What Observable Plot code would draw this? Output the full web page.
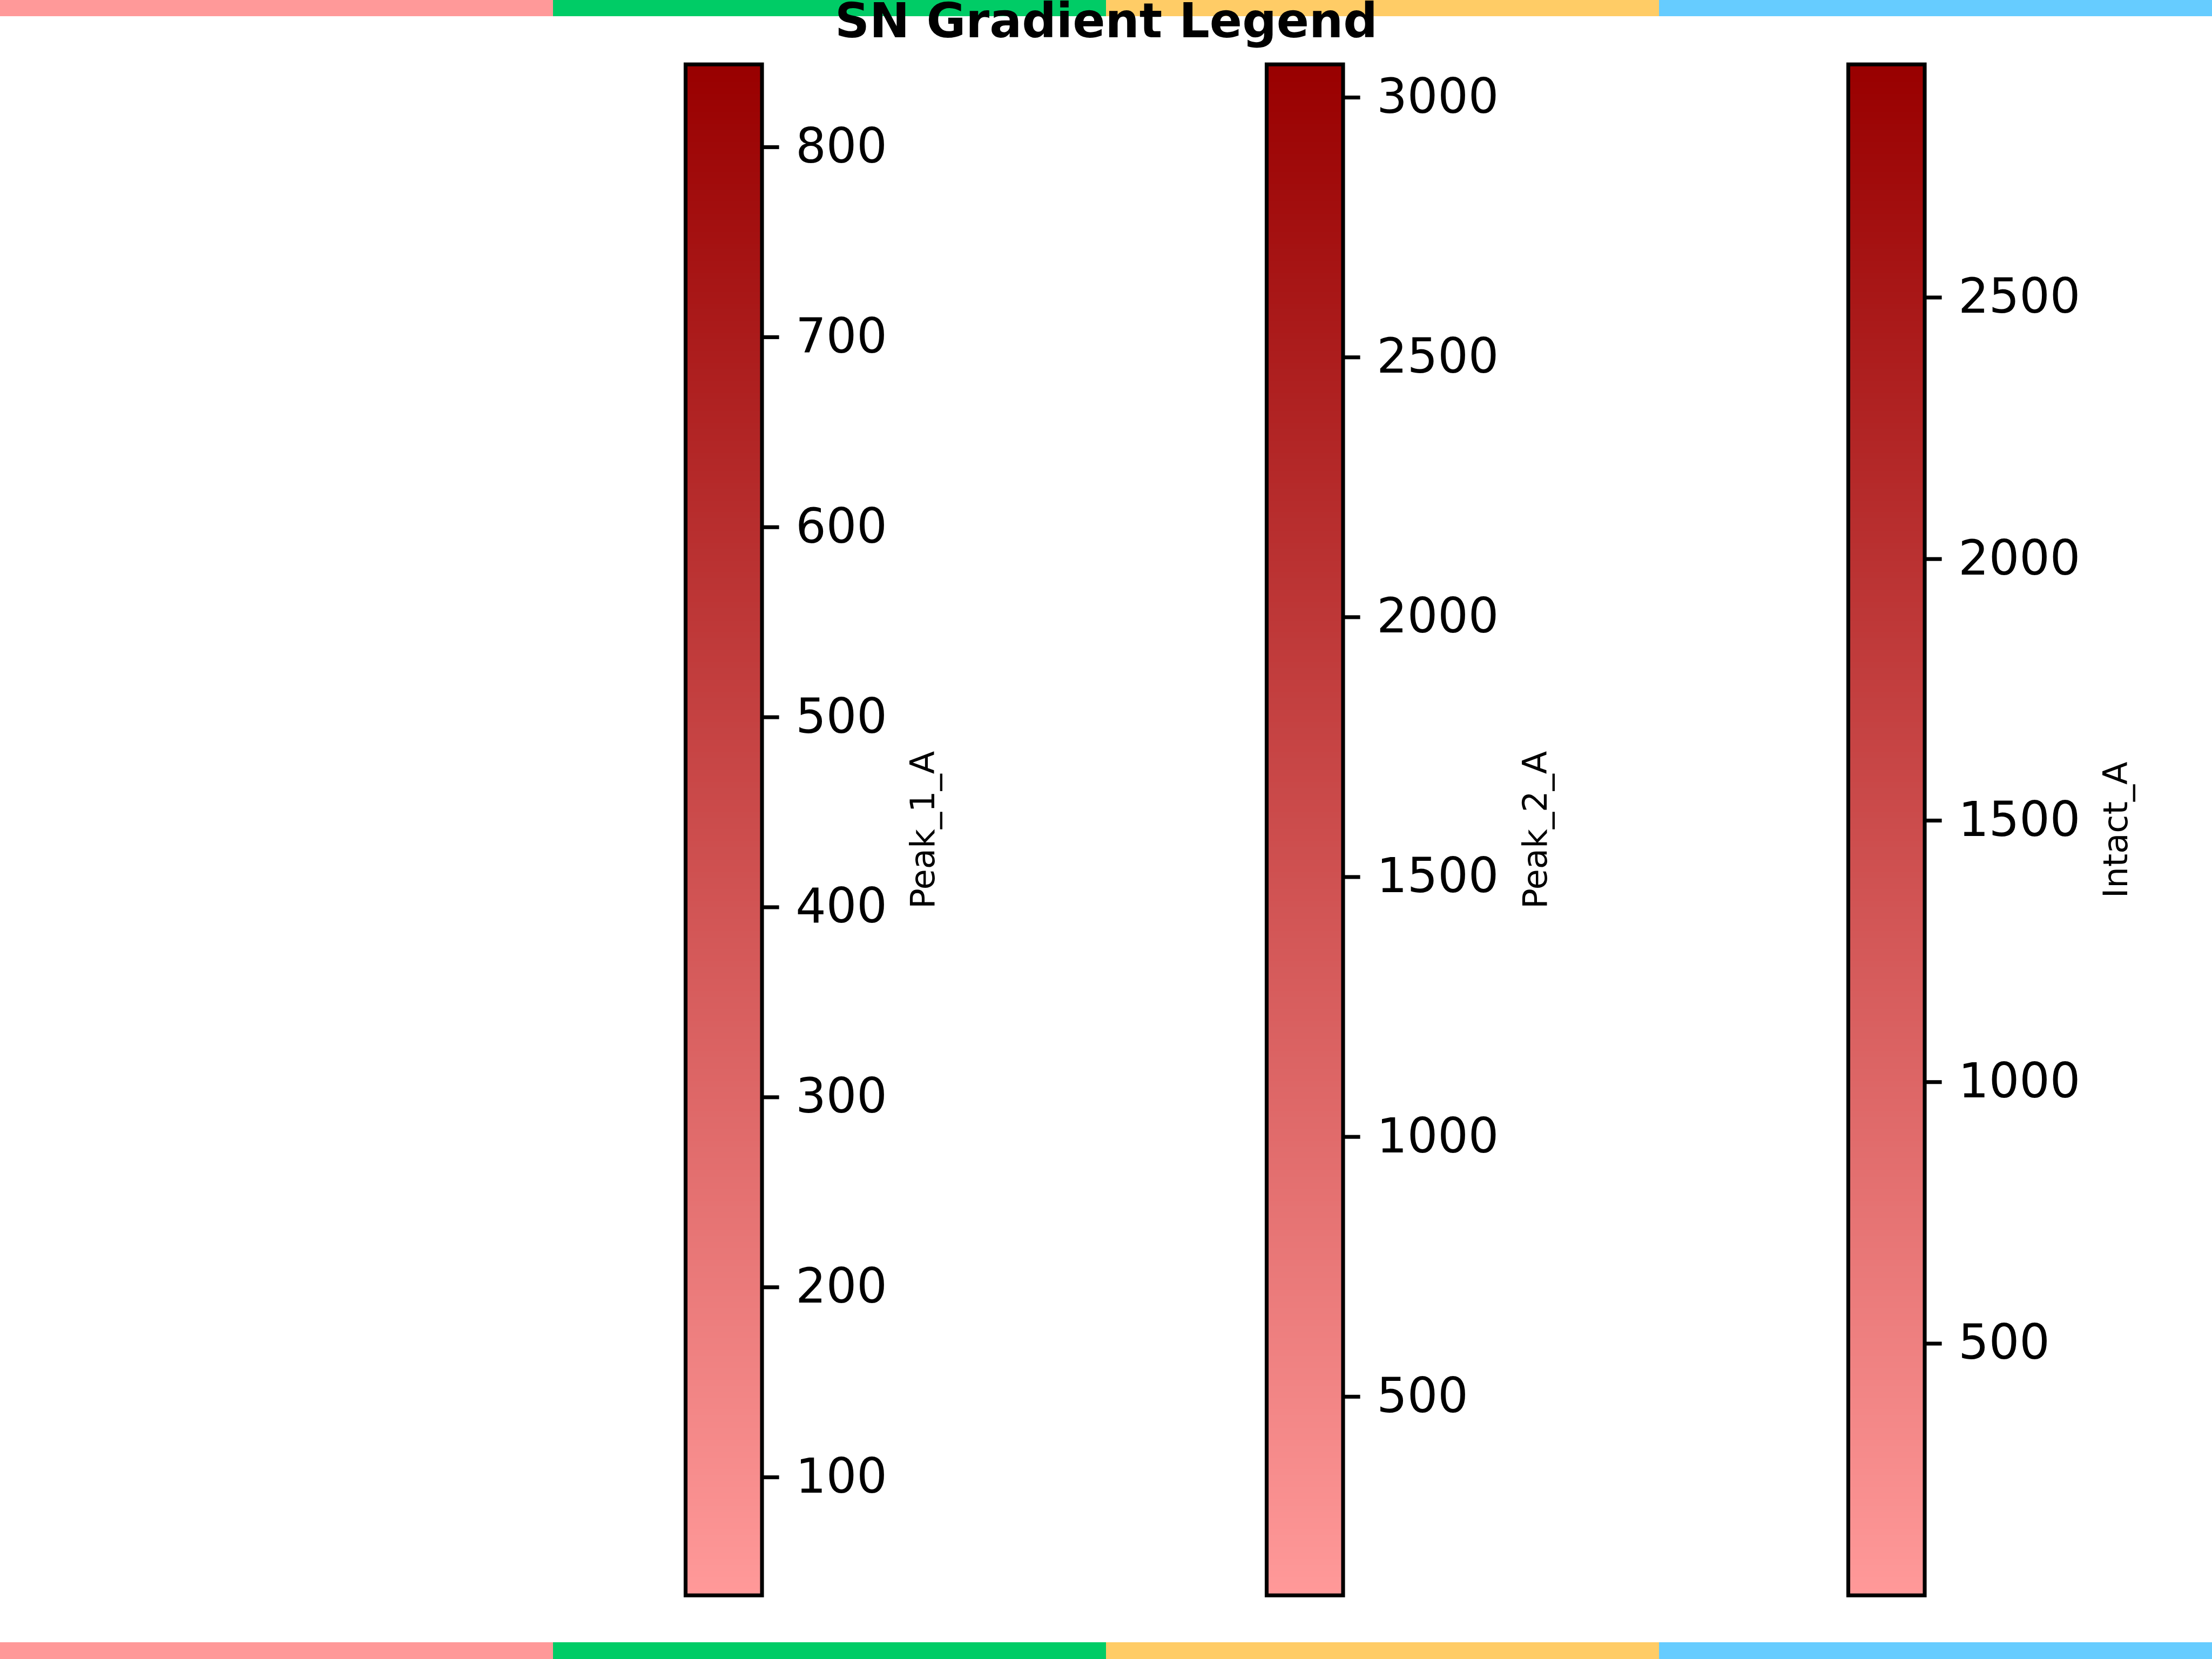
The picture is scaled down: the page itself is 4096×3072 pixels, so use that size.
<!DOCTYPE html>
<html>
<head>
<meta charset="utf-8">
<script src="https://cdn.jsdelivr.net/npm/d3@7"></script>
<script src="https://cdn.jsdelivr.net/npm/@observablehq/plot@0.6"></script>
<style>
html, body { margin: 0; padding: 0; background: #fff; }
#root { position: relative; width: 4096px; height: 3072px; overflow: hidden; background: #fff; font-family: "DejaVu Sans", sans-serif; }
#root > * { position: absolute; display: block; }
</style>
</head>
<body>
<div id="root"></div>
<script>
// ---- data ----
const title = "SN Gradient Legend";
const stripColors = ["#ff9999", "#00cc66", "#ffcc66", "#66ccff"];
const gradientColors = ["#ff9999", "#990000"];
const labels = ["Peak_1_A", "Peak_2_A", "Intact_A"];
const mins = [36.3, 112, 13];
const maxs = [842, 3058, 2940];
const ticks1 = [100, 200, 300, 400, 500, 600, 700, 800];
const ticks2 = [500, 1000, 1500, 2000, 2500, 3000];
const ticks3 = [500, 1000, 1500, 2000, 2500];
const tickSets = [ticks1, ticks2, ticks3];

// ---- layout (reference pixels, scaled) ----
const S = 4096 / 5760;
const W = 4096, H = 3072;
const barLeft = [1785, 3298, 4812];
const barWidth = 199;
const barTop = 167, barBottom = 4153.7;
const labelGap = [449, 530, 527];
const lw = 10 * S;
const root = document.getElementById("root");
const font = "DejaVu Sans";

function place(el, left, top) {
  el.style.left = left + "px";
  el.style.top = top + "px";
  root.appendChild(el);
}

// color strips
function strip(h) {
  return Plot.plot({
    width: W, height: h, margin: 0,
    x: {type: "band", domain: d3.range(stripColors.length), padding: 0, axis: null},
    color: {type: "identity"},
    style: {background: "transparent", overflow: "visible"},
    marks: [Plot.cell(stripColors, {x: (d, i) => i, fill: (d) => d, shapeRendering: "crispEdges"})]
  });
}
place(strip(Math.round(42.7 * S)), 0, 0);
place(strip(H - Math.round(4277 * S)), 0, Math.round(4277 * S));

// colorbars
const mL = 20, mR = 520;
labels.forEach((label, k) => {
  const lo = mins[k], hi = maxs[k];
  const N = 256;
  const bins = d3.range(N).map((i) => ({
    y1: lo + (hi - lo) * i / N,
    y2: lo + (hi - lo) * (i + 1) / N,
    v: lo + (hi - lo) * i / (N - 1)
  }));
  const p = Plot.plot({
    width: mL + barWidth * S + mR,
    height: H,
    marginLeft: mL,
    marginRight: mR,
    marginTop: barTop * S,
    marginBottom: H - barBottom * S,
    x: {domain: [0, 1], axis: null},
    y: {domain: [lo, hi], axis: null},
    color: {type: "linear", domain: [lo, hi], range: gradientColors, interpolate: "rgb"},
    style: {background: "transparent", overflow: "visible", fontFamily: font, color: "black"},
    marks: [
      Plot.rect(bins, {x1: 0, x2: 1, y1: "y1", y2: "y2", fill: "v", shapeRendering: "crispEdges"}),
      Plot.frame({stroke: "black", strokeWidth: lw}),
      Plot.axisY(tickSets[k], {
        anchor: "right",
        tickSize: 43.75 * S,
        tickPadding: 43.75 * S,
        strokeWidth: lw,
        fontSize: 125 * S,
        tickFormat: "d",
        dy: 5.5,
        label: null
      }),
      Plot.text([label], {
        frameAnchor: "right",
        rotate: -90,
        dx: labelGap[k] * S,
        textAnchor: "middle",
        lineAnchor: "bottom",
        fontSize: 87.5 * S
      })
    ]
  });
  place(p, barLeft[k] * S - mL, 0);
});

// title
const t = Plot.plot({
  width: W, height: 130, margin: 0,
  x: {domain: [0, 1], axis: null},
  y: {domain: [0, 1], axis: null},
  style: {background: "transparent", overflow: "visible", fontFamily: font, color: "black"},
  marks: [
    Plot.text([title], {
      frameAnchor: "top",
      dy: 97 * S,
      lineAnchor: "bottom",
      textAnchor: "middle",
      fontSize: 125 * S,
      fontWeight: "bold"
    })
  ]
});
place(t, 0, 0);
</script>
</body>
</html>
